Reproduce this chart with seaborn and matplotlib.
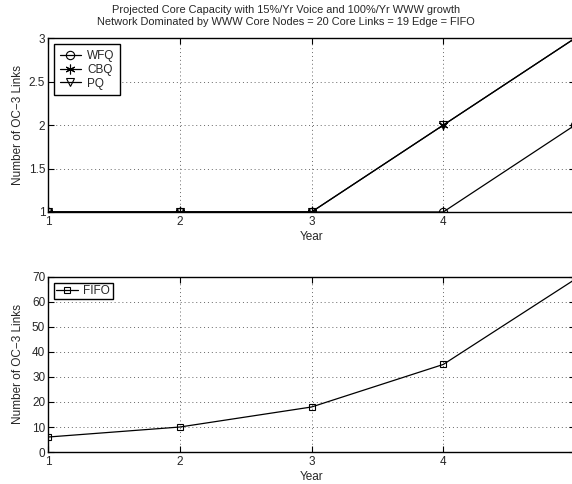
import matplotlib
matplotlib.use("Agg")
import matplotlib.pyplot as plt
import seaborn as sns

# values
years = [1, 2, 3, 4, 5]
wfq = [1, 1, 1, 1, 2]
cbq = [1, 1, 1, 2, 3]
pq = [1, 1, 1, 2, 3]
fifo = [6, 10, 18, 35, 69]

top_yticks = [1, 1.5, 2, 2.5, 3]
top_ylabels = ["1", "1.5", "2", "2.5", "3"]
bot_yticks = [0, 10, 20, 30, 40, 50, 60, 70]
xticks = [1, 2, 3, 4]

sns.set_style("ticks")
plt.rcParams['font.family'] = ['Liberation Sans', 'DejaVu Sans']
plt.rcParams['font.size'] = 8.5

fig = plt.figure(figsize=(5.72, 4.84), dpi=100)
ax1 = fig.add_axes([48 / 572, 0.562, 527 / 572, 0.359])
ax2 = fig.add_axes([48 / 572, 0.066, 527 / 572, 0.362])

common = dict(color='k', linewidth=0.9, markeredgecolor='k', markeredgewidth=0.8)
sns.lineplot(x=years, y=wfq, ax=ax1, marker='o', markersize=6,
             markerfacecolor='none', label='WFQ', **common)
sns.lineplot(x=years, y=cbq, ax=ax1, marker=(6, 2, 0), markersize=7,
             label='CBQ', **common)
sns.lineplot(x=years, y=pq, ax=ax1, marker='v', markersize=6,
             markerfacecolor='none', label='PQ', **common)
sns.lineplot(x=years, y=fifo, ax=ax2, marker='s', markersize=5,
             markerfacecolor='none', label='FIFO', **common)

for ax in (ax1, ax2):
    ax.set_xlim(1, 5)
    ax.set_xticks(xticks)
    ax.set_xlabel('Year')
    ax.set_ylabel('Number of OC\u22123 Links')
    ax.grid(True, linestyle=(0, (1, 3)), color='0.4', linewidth=0.7)
    ax.tick_params(direction='in', top=True, right=True, length=4,
                   width=0.8, pad=3, labelsize=8.5, color='k')
    ax.tick_params(axis='y', pad=2)
    for s in ax.spines.values():
        s.set_linewidth(1.0)
        s.set_color('k')
    ax.xaxis.labelpad = 2
    ax.yaxis.set_label_coords(-0.045, 0.5)

ax1.set_ylim(1, 3)
ax1.set_yticks(top_yticks)
ax1.set_yticklabels(top_ylabels)
ax2.set_ylim(0, 70)
ax2.set_yticks(bot_yticks)

leg_kw = dict(loc='upper left', frameon=True, fancybox=False, edgecolor='k',
              framealpha=1, fontsize=8.5, handlelength=1.8, handletextpad=0.5,
              borderaxespad=0.5)
l1 = ax1.legend(labelspacing=0.15, borderpad=0.5, **leg_kw)
l2 = ax2.legend(labelspacing=0.15, borderpad=0.2, **leg_kw)
for l in (l1, l2):
    l.get_frame().set_linewidth(1.0)

fig.text(0.5, 1 - 16 / 484,
         'Projected Core Capacity with 15%/Yr Voice and 100%/Yr WWW growth\n'
         'Network Dominated by WWW Core Nodes = 20 Core Links = 19 Edge = FIFO',
         ha='center', va='center', fontsize=7.9, linespacing=1.2)

fig.savefig('out.png', dpi=100)
